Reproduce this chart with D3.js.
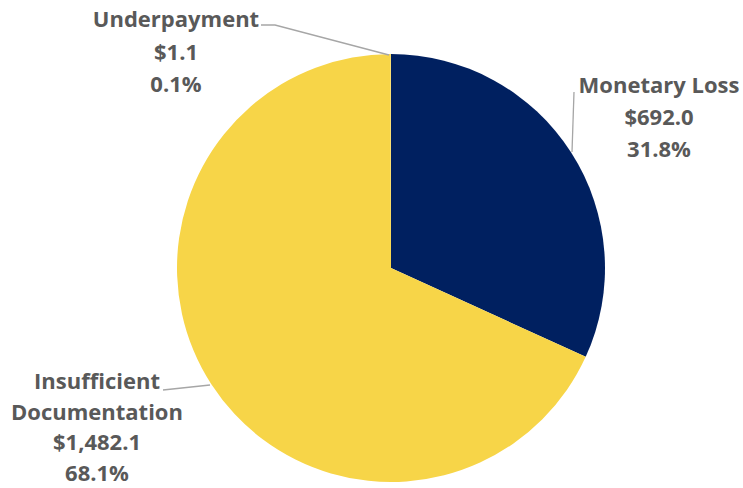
<!DOCTYPE html>
<html><head><meta charset="utf-8">
<script src="https://cdn.jsdelivr.net/npm/d3@7"></script>
<style>html,body{margin:0;padding:0;background:#fff;}</style>
</head><body>
<svg id="c" width="743" height="488"></svg>
<script>
const categories = ["Monetary Loss", "Insufficient Documentation", "Underpayment"];
const values = [692.0, 1482.1, 1.1];
const valueLabels = ["$692.0", "$1,482.1", "$1.1"];
const percentLabels = ["31.8%", "68.1%", "0.1%"];
const colors = ["#002060", "#F7D548", "#F7D548"];

const svg = d3.select("#c");
const cx = 391, cy = 268, r = 214;
const pie = d3.pie().sort(null).value(d => d.v);
const data = categories.map((c, i) => ({c, v: values[i], i}));
const arcs = pie(data);
const arc = d3.arc().innerRadius(0).outerRadius(r);
const g = svg.append("g").attr("transform", `translate(${cx},${cy})`);
g.selectAll("path").data(arcs).join("path")
  .attr("d", arc).attr("fill", d => colors[d.data.i]);

// label layout (positions of text blocks)
const layout = [
  {x: 659, y: 93, lh: 32, lines: ["Monetary Loss"], leader: [[574, 92], [572, 152]]},
  {x: 97, y: 389, lh: 30.5, lines: ["Insufficient", "Documentation"], leader: [[163, 390], [210, 385]]},
  {x: 176, y: 27, lh: 32.5, lines: ["Underpayment"], leader: [[261, 25], [275, 25], [389, 55]]}
];
layout.forEach((L, i) => {
  svg.append("path")
    .attr("d", d3.line()(L.leader))
    .attr("fill", "none").attr("stroke", "#A6A6A6").attr("stroke-width", 1.3);
  const lines = L.lines.concat([valueLabels[i], percentLabels[i]]);
  const t = svg.append("text")
    .attr("text-anchor", "middle")
    .attr("font-family", "'Open Sans', sans-serif")
    .attr("font-weight", "bold")
    .attr("font-size", 22)
    .attr("fill", "#595959");
  lines.forEach((s, k) => {
    t.append("tspan").attr("x", L.x).attr("y", L.y + k * L.lh).text(s);
  });
});
</script>
</body></html>
